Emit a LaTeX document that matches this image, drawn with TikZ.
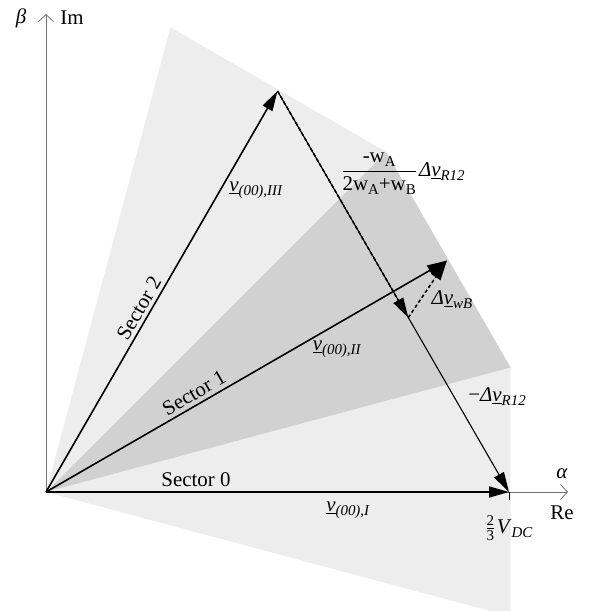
\documentclass[tikz,border=0pt]{standalone}
\usepackage{fontspec}
\setmainfont{Liberation Serif}
\usetikzlibrary{arrows.meta,calc}
\definecolor{lightsec}{gray}{0.93}
\definecolor{darksec}{gray}{0.82}
\definecolor{axisgray}{gray}{0.45}
\newcommand\subtxt[1]{\raisebox{-0.4ex}{\fontsize{15}{15}\selectfont #1}}
\newcommand\uvec{\underline{\textit{v}}}
\tikzset{
  vec/.style={line width=1.6bp,-{Triangle[length=20bp,width=11bp]}},
  thinvec/.style={line width=1.1bp,-{Triangle[length=20bp,width=11bp]}},
  dvec/.style={line width=1.6bp,dash pattern=on 3.5bp off 2.5bp,-{Triangle[length=20bp,width=11bp]}},
  axisline/.style={draw=axisgray,line width=0.8bp,-{Straight Barb[length=7bp,width=15bp]}},
  lab/.style={inner sep=1bp}
}
\begin{document}
\begin{tikzpicture}[x=1bp,y=1bp,font=\fontsize{21}{25}\selectfont]
\useasboundingbox (-46,-119) rectangle (545,492);
\clip (-46,-119) rectangle (545,492);
\coordinate (O) at (0,0);
\def\R{481}
% sectors
\fill[lightsec] (O) -- (-15:\R) -- (15:\R) -- cycle;
\fill[darksec] (O) -- (15:\R) -- (45:\R) -- cycle;
\fill[lightsec] (O) -- (45:\R) -- (75:\R) -- cycle;
% axes
\coordinate (Ytop) at (0,478);
\coordinate (Xend) at (522,0);
\draw[axisline] (O) -- (Ytop);
\draw[axisline] (O) -- (Xend);
% vectors
\coordinate (V1) at (0:463);
\coordinate (V2) at (30:463);
\coordinate (V3) at (60:463);
\coordinate (P) at ($(V3)!0.565!(V1)$);
\coordinate (T) at ($(V1)+(0,-8)$);
\draw[line width=0.8bp] (V1) -- (T);
\draw[vec] (O) -- (V1);
\draw[vec] (O) -- (V2);
\draw[vec] (O) -- (V3);
\draw[thinvec] (V3) -- (V1);
\draw[dvec] (V3) -- (P);
\draw[dvec] (P) -- (V2);
% labels
\node[lab] (beta) at (-25,474) {\textit{β}};
\node[lab] (im) at (26,474) {Im};
\node[lab] (alpha) at (516,18) {\textit{α}};
\node[lab] (re) at (516,-21) {Re};
\node[lab] (vdc) at (463,-36) {$\frac{\hbox{\fontsize{15}{15}\selectfont 2}}{\hbox{\fontsize{15}{15}\selectfont 3}}$\hspace{1.5bp}\textit{V}\subtxt{\textit{DC}}};
\node[lab,rotate=60] (s2) at (93,184) {Sector 2};
\node[lab,rotate=30] (s1) at (148,99) {Sector 1};
\node[lab] (s0) at (150,12) {Sector 0};
\node[lab] (l3) at (210,302) {\uvec\subtxt{\textit{(00),III}}};
\node[lab] (l2) at (291,143) {\uvec\subtxt{\textit{(00),II}}};
\node[lab] (l1) at (302,-18) {\uvec\subtxt{\textit{(00),I}}};
\node[lab] (frac) at (357,318) {$\displaystyle\frac{\hbox{-w\subtxt{A}}}{\hbox{2w\subtxt{A}+w\subtxt{B}}}$\hspace{2bp}\textit{Δ}\uvec\subtxt{\textit{R12}}};
\node[lab] (dwb) at (406,192) {\textit{Δ}\uvec\subtxt{\textit{wB}}};
\node[lab] (mdr) at (451,95) {−\textit{Δ}\uvec\subtxt{\textit{R12}}};
\end{tikzpicture}
\end{document}
